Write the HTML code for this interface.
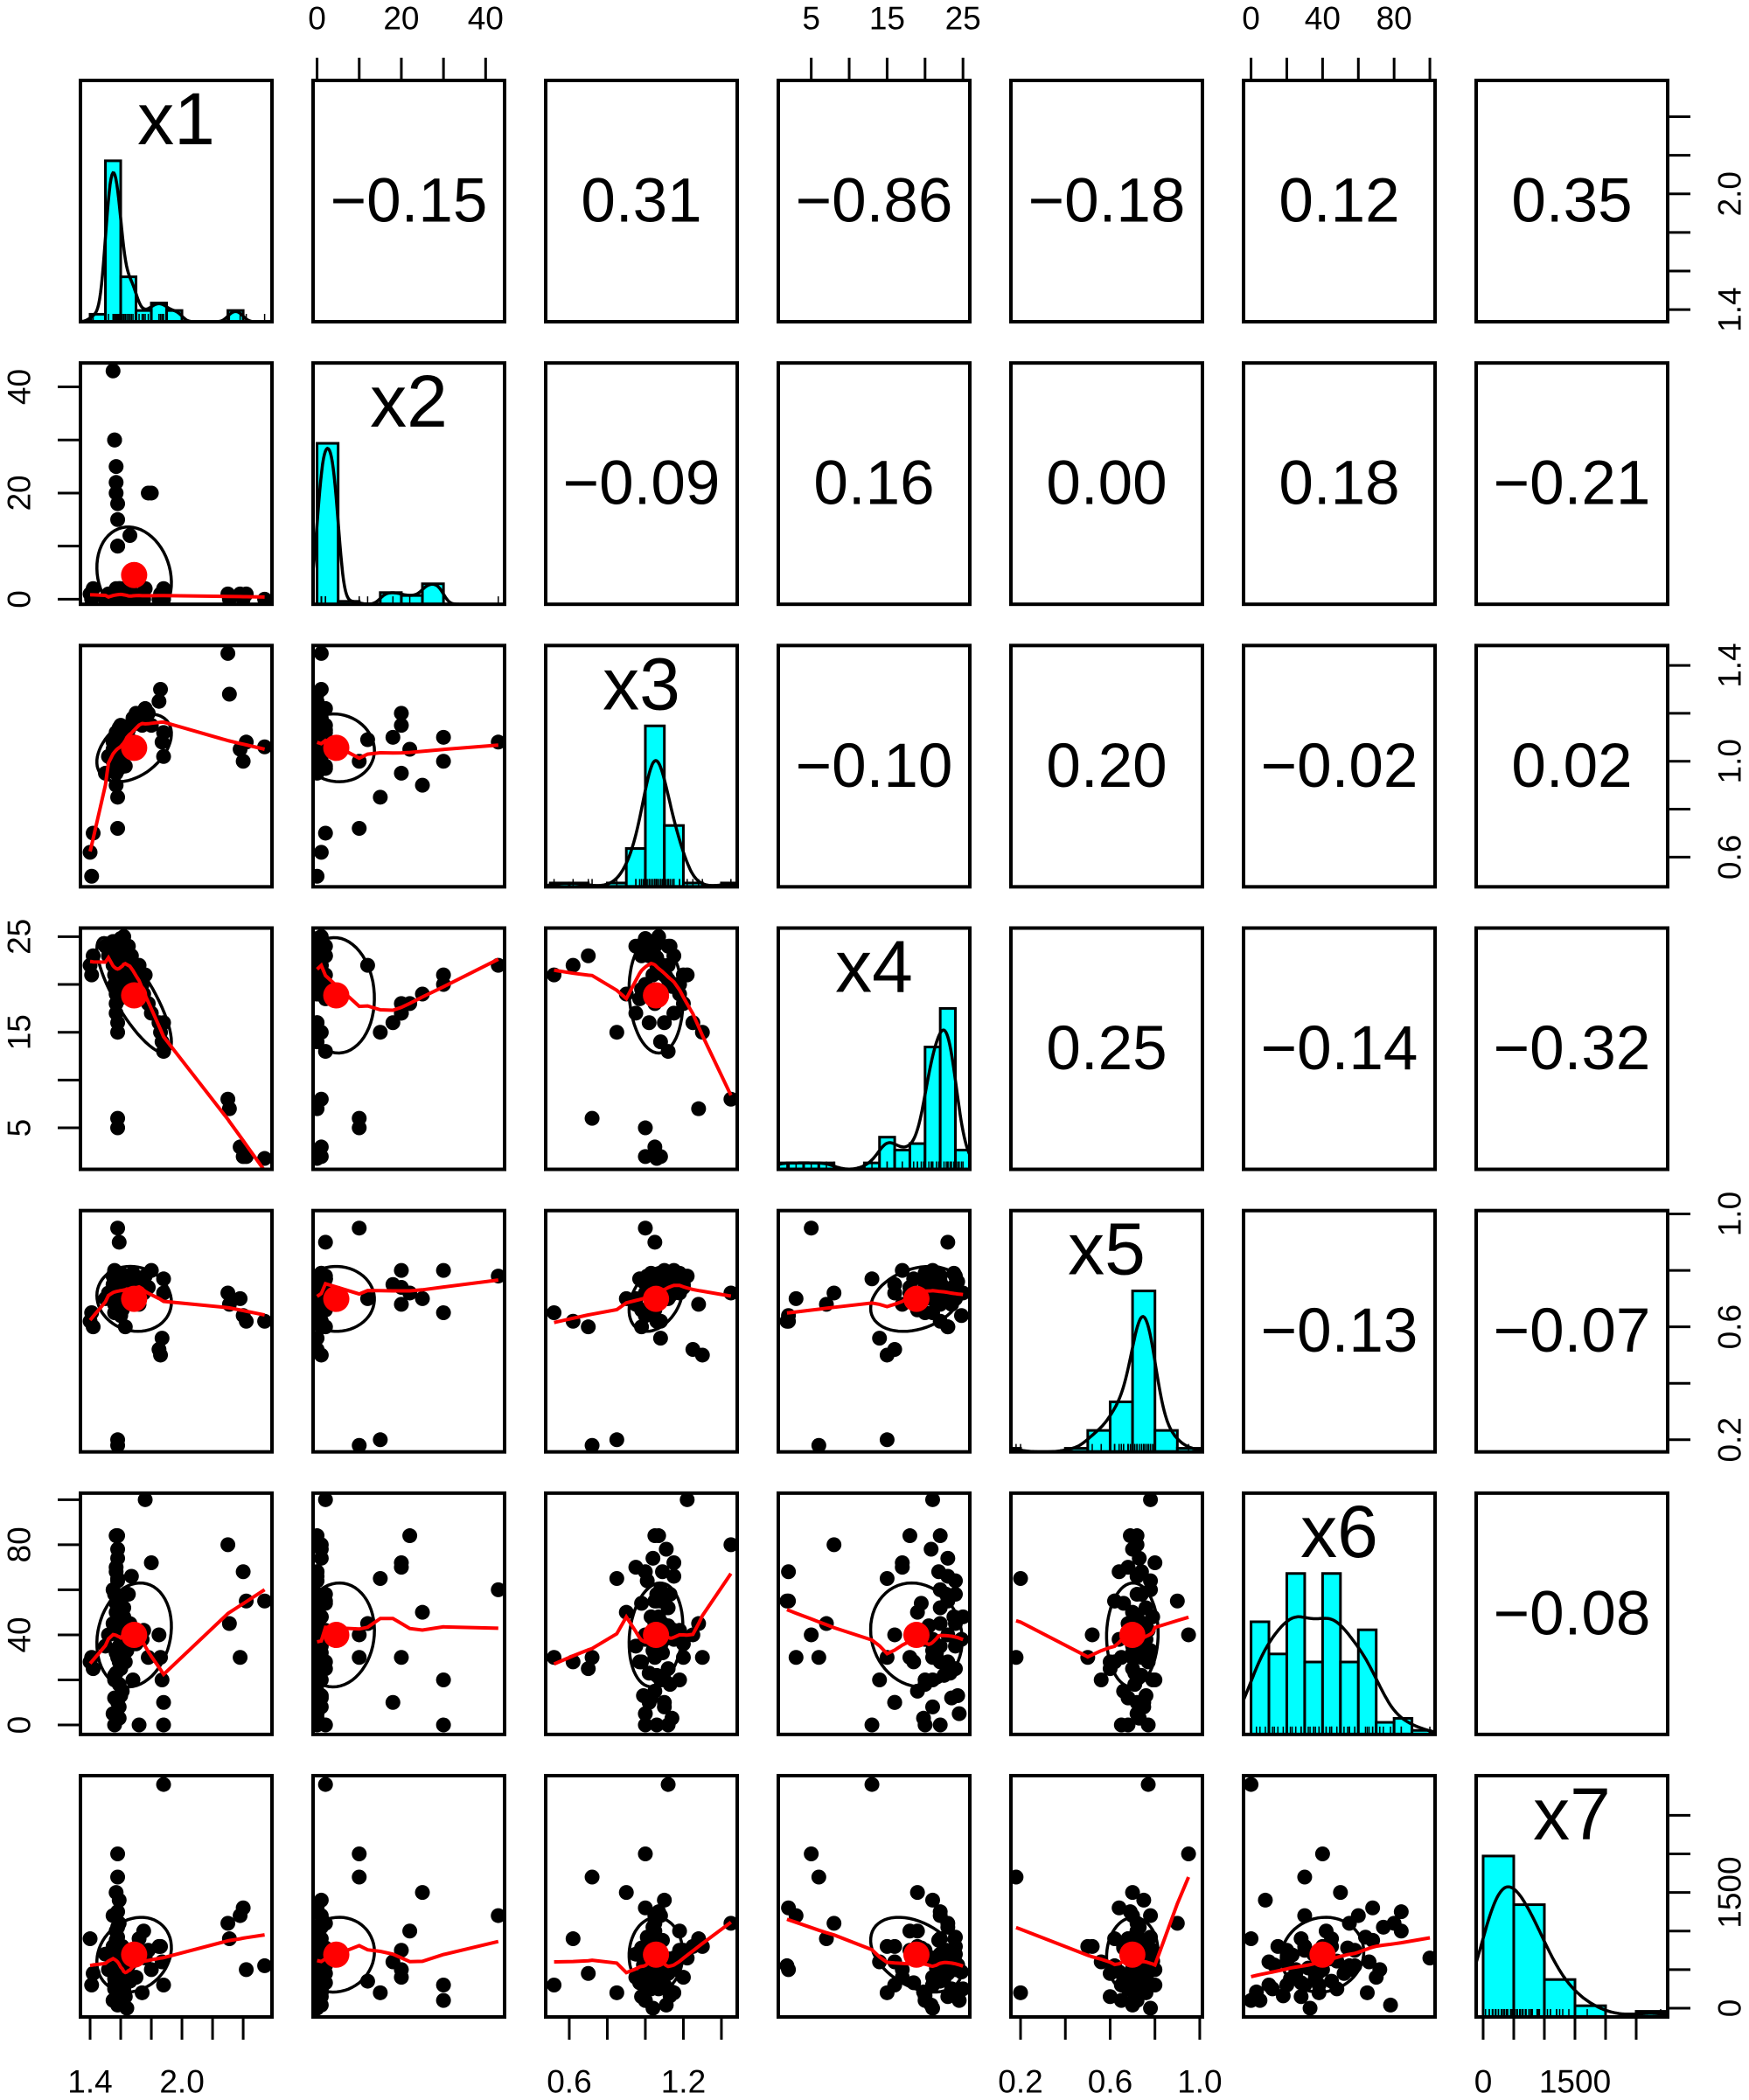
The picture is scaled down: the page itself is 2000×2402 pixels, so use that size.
<!DOCTYPE html>
<html>
<head>
<meta charset="utf-8">
<style>
  html, body { margin:0; padding:0; background:#ffffff; }
  svg { display:block; font-family:"Liberation Sans", Arial, sans-serif; }
</style>
</head>
<body>
<svg id="chart" width="2000" height="2402" viewBox="0 0 2000 2402" xmlns="http://www.w3.org/2000/svg"></svg>
<script>
// ---------------- data ----------------
const varNames = ["x1","x2","x3","x4","x5","x6","x7"];
const x1Vals = [1.40,1.41,1.42,1.50,1.52,1.55,1.55,1.56,1.56,1.57,1.57,1.57,1.58,1.58,1.58,1.58,1.59,1.59,1.60,1.60,1.60,1.61,1.62,1.62,1.63,1.64,1.65,1.66,1.67,1.68,1.70,1.72,1.74,1.75,1.76,1.78,1.80,1.85,1.86,1.87,1.88,1.88,2.30,2.31,2.38,2.40,2.42,2.54,1.55,1.56,1.56,1.57,1.57,1.57,1.58,1.58,1.58,1.59,1.59,1.59,1.60,1.60,1.56,1.57,1.58,1.59,1.60,1.57];
const x2Vals = [1,0,2,0,1,0,43,30,30,25,22,20,18,15,10,10,2,1,0,1,2,0,1,0,1,0,2,12,0,1,0,0,1,0,2,20,20,0,1,0,2,0,1,0,1,0,1,0,0,1,0,1,0,2,0,1,0,1,0,2,0,1,0,0,1,0,1,0];
const x3Vals = [0.62,0.52,0.70,0.95,1.02,1.05,1.08,1.10,1.00,0.90,1.05,0.95,1.10,0.85,0.72,1.00,1.05,1.08,1.12,1.10,1.15,1.05,1.07,1.12,0.98,1.04,1.13,1.09,1.15,1.18,1.20,1.06,1.15,1.18,1.22,1.20,1.15,1.25,1.30,1.08,1.12,1.02,1.45,1.28,1.05,1.00,1.08,1.06,1.00,1.03,1.06,1.09,1.12,0.98,1.01,1.04,1.07,1.10,1.13,0.97,1.00,1.03,1.06,1.09,1.11,1.14,0.99,1.02];
const x4Vals = [22,21,23,24,23,24,22,21,20,19,18,17,16,15,6,5,23,22,24,21,20,19,25,22,23,21,24,22,23,20,21,22,20,19,21,18,17,16,15,14,13,16,8,7,3,2,2,1.8,24.5,23.5,22.5,21.5,20.5,19.5,24.0,23.0,22.0,21.0,20.0,18.5,24.8,23.8,22.8,21.8,20.8,19.8,24.3,23.3];
const x5Vals = [0.62,0.65,0.60,0.70,0.72,0.75,0.78,0.80,0.65,0.70,0.72,0.68,0.75,0.20,0.18,0.95,0.90,0.75,0.70,0.74,0.77,0.66,0.72,0.76,0.60,0.78,0.74,0.70,0.72,0.79,0.75,0.68,0.76,0.72,0.78,0.74,0.80,0.52,0.50,0.56,0.77,0.72,0.72,0.68,0.70,0.64,0.62,0.62,0.72,0.68,0.74,0.70,0.76,0.66,0.78,0.73,0.69,0.75,0.71,0.77,0.64,0.79,0.72,0.74,0.70,0.73,0.76,0.71];
const x6Vals = [28,30,25,35,40,45,60,20,0,50,84,70,10,65,30,40,55,35,25,38,42,15,48,52,28,33,58,45,66,20,36,0,38,42,100,30,72,40,30,20,0,10,80,45,30,68,55,55,5,12,22,32,44,54,64,74,84,8,18,28,38,48,58,68,78,3,13,23];
const x7Vals = [900,300,450,700,500,800,1200,300,100,1500,1000,400,600,200,1700,2000,1100,700,500,300,650,800,250,450,150,0,550,350,600,750,400,900,200,1000,650,750,500,800,800,600,2900,300,1100,900,1200,1300,500,550,100,250,380,520,640,780,920,1050,1250,1400,160,330,470,610,750,880,40,210,560,690];
const allVals = [x1Vals,x2Vals,x3Vals,x4Vals,x5Vals,x6Vals,x7Vals];

const axisMin = [1.337, -0.95, 0.476, 0.66, 0.157, -4.2, -114];
const axisMax = [2.588, 44.5, 1.483, 25.9, 1.012, 102.9, 3014];

const histStart = [1.4, 0, 0.5, 0, 0.1, 0, 0];
const histWidth = [0.1, 5, 0.1, 2, 0.1, 10, 500];
const histX1 = [2,43,12,3,5,3,0,0,0,3,0,0];
const histX2 = [55,1,0,4,3,7,0,0,0];
const histX3 = [1,1,0,1,10,42,16,1,0,1];
const histX4 = [1,1,1,1,0,0,1,5,3,4,19,25,3];
const histX5 = [1,0,0,1,6,14,45,6,1];
const histX6 = [14,10,20,9,20,9,13,1.5,2,0.5];
const histX7 = [43,30,10,3,0,1.5];
const histCounts = [histX1,histX2,histX3,histX4,histX5,histX6,histX7];
const densityBw = [0.03, 1.2, 0.05, 1.0, 0.04, 9, 280];

const corrRow1 = ["\u22120.15","0.31","\u22120.86","\u22120.18","0.12","0.35"];
const corrRow2 = ["\u22120.09","0.16","0.00","0.18","\u22120.21"];
const corrRow3 = ["\u22120.10","0.20","\u22120.02","0.02"];
const corrRow4 = ["0.25","\u22120.14","\u22120.32"];
const corrRow5 = ["\u22120.13","\u22120.07"];
const corrRow6 = ["\u22120.08"];
const corrRows = [corrRow1,corrRow2,corrRow3,corrRow4,corrRow5,corrRow6];

const ticksX1 = [1.4,1.6,1.8,2.0,2.2,2.4];
const ticksX2 = [0,10,20,30,40];
const ticksX3 = [0.6,0.8,1.0,1.2,1.4];
const ticksX4 = [5,10,15,20,25];
const ticksX5 = [0.2,0.4,0.6,0.8,1.0];
const ticksX6 = [0,20,40,60,80,100];
const ticksX7 = [0,500,1000,1500,2000,2500];
const tickVals = [ticksX1,ticksX2,ticksX3,ticksX4,ticksX5,ticksX6,ticksX7];
const hLabels = [["1.4","2.0"],["0","20","40"],["0.6","1.2"],["5","15","25"],["0.2","0.6","1.0"],["0","40","80"],["0","1500"]];
const vLabels = [["1.4","2.0"],["0","20","40"],["0.6","1.0","1.4"],["5","15","25"],["0.2","0.6","1.0"],["0","40","80"],["0","1500"]];

// ---------------- layout ----------------
const NS = "http://www.w3.org/2000/svg";
const svg = document.getElementById("chart");
const P0 = 92, COLSTEP = 266, ROWSTEP = 323.17, W = 219, H = 276;
function colLeft(j){ return P0 + j*COLSTEP; }
function rowTop(i){ return P0 + i*ROWSTEP; }
function sx(v,j){ return colLeft(j) + (v-axisMin[j])/(axisMax[j]-axisMin[j])*W; }
function sy(v,i){ return rowTop(i) + H - (v-axisMin[i])/(axisMax[i]-axisMin[i])*H; }
function mk(tag, attrs, parent){
  const e = document.createElementNS(NS, tag);
  for (const k in attrs) e.setAttribute(k, attrs[k]);
  (parent||svg).appendChild(e);
  return e;
}
const defs = mk("defs", {});

function mean(a){ return a.reduce((s,v)=>s+v,0)/a.length; }
function sd(a){ const m=mean(a); return Math.sqrt(a.reduce((s,v)=>s+(v-m)*(v-m),0)/(a.length-1)); }
function corr(a,b){ const ma=mean(a), mb=mean(b); let s=0,sa=0,sb=0;
  for(let k=0;k<a.length;k++){ s+=(a[k]-ma)*(b[k]-mb); sa+=(a[k]-ma)**2; sb+=(b[k]-mb)**2; }
  return s/Math.sqrt(sa*sb); }
function lowess(xs, ys, f){
  const n = xs.length;
  const idx = xs.map((v,k)=>k).sort((a,b)=>xs[a]-xs[b]);
  const X = idx.map(k=>xs[k]), Y = idx.map(k=>ys[k]);
  const r = Math.max(2, Math.ceil(f*n));
  let rob = new Array(n).fill(1);
  let fit = new Array(n).fill(0);
  for (let it=0; it<3; it++){
    for (let i=0;i<n;i++){
      const d = X.map(v=>Math.abs(v-X[i]));
      const h = d.slice().sort((a,b)=>a-b)[r-1];
      let sw=0,swx=0,swy=0,swxx=0,swxy=0;
      for (let k=0;k<n;k++){
        let w;
        if (h<=0) w = d[k]===0?1:0;
        else { const u=d[k]/h; w = u<1 ? Math.pow(1-u*u*u,3) : 0; }
        w *= rob[k];
        sw+=w; swx+=w*X[k]; swy+=w*Y[k]; swxx+=w*X[k]*X[k]; swxy+=w*X[k]*Y[k];
      }
      if (sw<=0){ fit[i]=Y[i]; continue; }
      const mx=swx/sw, my=swy/sw, vx=swxx/sw-mx*mx;
      const b = vx>1e-12 ? (swxy/sw-mx*my)/vx : 0;
      fit[i] = my + b*(X[i]-mx);
    }
    const res = Y.map((v,k)=>Math.abs(v-fit[k]));
    const s = res.slice().sort((a,b)=>a-b)[Math.floor(n/2)];
    if (s<=1e-12) break;
    rob = res.map(e=>{ const u=e/(6*s); return u<1 ? (1-u*u)*(1-u*u) : 0; });
  }
  return {X, fit};
}

// ---------------- panels ----------------
for (let i=0;i<7;i++){
  for (let j=0;j<7;j++){
    const L=colLeft(j), T=rowTop(i);
    const g = mk("g", {});
    
    
    const cp = mk("clipPath", {id:"cp"+i+"_"+j}, defs);
    mk("rect", {x:L, y:T, width:W, height:H}, cp);
    const inner = mk("g", {"clip-path":"url(#cp"+i+"_"+j+")"}, g);

    if (i===j){
      const counts = histCounts[i], N = counts.reduce((s,v)=>s+v,0), bw = histWidth[i];
      const dens = counts.map(c=>c/(N*bw));
      const kd = [];
      const nS = 200;
      for (let s=0;s<=nS;s++){
        const v = axisMin[i] + (axisMax[i]-axisMin[i])*s/nS;
        let d=0;
        for (let b=0;b<counts.length;b++){
          for (let q=0;q<5;q++){
            const cc = histStart[i] + b*bw + (q+0.5)*bw/5;
            const z=(v-cc)/densityBw[i];
            d += counts[b]/5*Math.exp(-0.5*z*z)/(densityBw[i]*Math.sqrt(2*Math.PI));
          }
        }
        kd.push([v, d/N]);
      }
      const maxD = Math.max(Math.max(...dens), Math.max(...kd.map(p=>p[1])));
      const yScale = (0.667*H)/maxD;
      for (let b=0;b<counts.length;b++){
        const x0 = sx(histStart[i]+b*bw, i), x1p = sx(histStart[i]+(b+1)*bw, i);
        const hh = dens[b]*yScale;
        const bar = mk("rect", {x:x0, y:T+H-hh, width:x1p-x0, height:hh, fill:"#00ffff", stroke:"#000", "stroke-width":3}, inner);
        
        
      }
      const dpath = kd.map((p,k)=>(k?"L":"M")+sx(p[0],i).toFixed(1)+","+(T+H-p[1]*yScale).toFixed(1)).join(" ");
      const dl = mk("path", {d:dpath, fill:"none", stroke:"#000", "stroke-width":3.5}, inner);
      
      
      allVals[i].forEach(v=>{
        const rx = sx(v,i);
        mk("line", {x1:rx, x2:rx, y1:T+H, y2:T+H-9, stroke:"#000", "stroke-width":1.5}, inner);
      });
      const nm = mk("text", {x:L+W/2, y:T+44, "font-size":84, "text-anchor":"middle", "dominant-baseline":"central", fill:"#000"}, g);
      nm.textContent = varNames[i];
      
      
    } else if (j>i){
      const t = mk("text", {x:L+W/2, y:T+H/2, "font-size":71, "text-anchor":"middle", "dominant-baseline":"central", fill:"#000"}, g);
      t.textContent = corrRows[i][j-i-1];
      
      
    } else {
      const xv = allVals[j], yv = allVals[i];
      for (let k=0;k<xv.length;k++){
        const c = mk("circle", {cx:sx(xv[k],j), cy:sy(yv[k],i), r:8.5, fill:"#000"}, inner);
        
        
      }
      const mx=mean(xv), my=mean(yv), sdx=sd(xv), sdy=sd(yv), r=corr(xv,yv);
      const th = Math.abs(r)>0 ? Math.sign(r)/Math.SQRT2 : 1/Math.SQRT2;
      const a1=Math.sqrt(1+r), a2=Math.sqrt(Math.max(0,1-r));
      let ep="";
      for (let s=0;s<=60;s++){
        const ang = s*2*Math.PI/60;
        const u=Math.cos(ang)*a1, w=Math.sin(ang)*a2;
        const ex = u*th + w*(-th), ey = u*th + w*th;
        ep += (s?"L":"M") + sx(mx+ex*sdx,j).toFixed(1) + "," + sy(my+ey*sdy,i).toFixed(1) + " ";
      }
      const el = mk("path", {d:ep, fill:"none", stroke:"#000", "stroke-width":3.5}, inner);
      
      
      const lw = lowess(xv, yv, 2/3);
      const lp = lw.X.map((v,k)=>(k?"L":"M")+sx(v,j).toFixed(1)+","+sy(lw.fit[k],i).toFixed(1)).join(" ");
      const ll = mk("path", {d:lp, fill:"none", stroke:"#ff0000", "stroke-width":4}, inner);
      
      
      const mp = mk("circle", {cx:sx(mx,j), cy:sy(my,i), r:15, fill:"#ff0000"}, inner);
      
      
    }
    const fr = mk("rect", {x:L, y:T, width:W, height:H, fill:"none", stroke:"#000", "stroke-width":4}, g);
    
    
  }
}

// ---------------- axes ----------------
const TICK = 26;
for (let v=0; v<7; v++){
  const even = (v%2===0);
  const hg = mk("g", {});
  
  
  const yEdge = even ? rowTop(6)+H : rowTop(0);
  const dir = even ? 1 : -1;
  const tv = tickVals[v];
  mk("line", {x1:sx(tv[0],v), x2:sx(tv[tv.length-1],v), y1:yEdge, y2:yEdge, stroke:"#000", "stroke-width":3}, hg);
  tv.forEach(t=>{
    mk("line", {x1:sx(t,v), x2:sx(t,v), y1:yEdge, y2:yEdge+dir*TICK, stroke:"#000", "stroke-width":3}, hg);
  });
  hLabels[v].forEach(lab=>{
    const tx = mk("text", {x:sx(parseFloat(lab),v), y: even ? 2381 : 21, "font-size":37, "text-anchor":"middle", "dominant-baseline":"central", fill:"#000"}, hg);
    tx.textContent = lab;
    
    
  });
  const vg = mk("g", {});
  
  
  const xEdge = even ? colLeft(6)+W : colLeft(0);
  const hd = even ? 1 : -1;
  mk("line", {x1:xEdge, x2:xEdge, y1:sy(tv[0],v), y2:sy(tv[tv.length-1],v), stroke:"#000", "stroke-width":3}, vg);
  tv.forEach(t=>{
    mk("line", {x1:xEdge, x2:xEdge+hd*TICK, y1:sy(t,v), y2:sy(t,v), stroke:"#000", "stroke-width":3}, vg);
  });
  vLabels[v].forEach(lab=>{
    const lx = even ? 1978 : 22, ly = sy(parseFloat(lab),v);
    const tx = mk("text", {x:lx, y:ly, "font-size":37, "text-anchor":"middle", "dominant-baseline":"central", fill:"#000", transform:"rotate(-90 "+lx+" "+ly+")"}, vg);
    tx.textContent = lab;
    
    
  });
}
</script>
</body>
</html>
